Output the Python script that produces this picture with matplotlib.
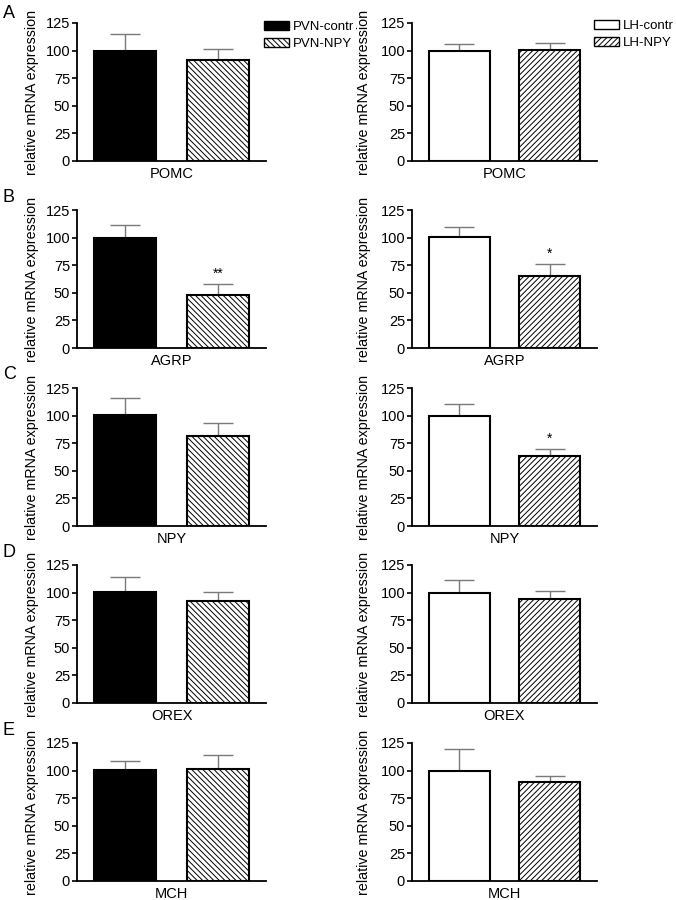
"""
Relative mRNA expression of hypothalamic neuropeptides after NPY
overexpression in PVN (left column) and LH (right column).
"""

import matplotlib
matplotlib.use("Agg")
import matplotlib.pyplot as plt
from matplotlib.patches import Patch

plt.rcParams["font.family"] = ["Liberation Sans", "DejaVu Sans"]
plt.rcParams["hatch.linewidth"] = 0.7

# genes shown, one row each
genes = ["POMC", "AGRP", "NPY", "OREX", "MCH"]
panel_letters = ["A", "B", "C", "D", "E"]

# PVN group, mean and upper SEM
pvn_contr_mean = [100, 100, 100.5, 100.3, 100.8]
pvn_contr_sem = [15, 11.2, 15.5, 13.6, 7.5]
pvn_npy_mean = [91.5, 48, 81.6, 92.1, 101.7]
pvn_npy_sem = [9.5, 10.3, 11.6, 8.7, 12]
pvn_sig = ["", "**", "", "", ""]

# LH group, mean and upper SEM
lh_contr_mean = [100, 100.4, 100, 100, 100]
lh_contr_sem = [6, 9.6, 10.5, 11.1, 19.2]
lh_npy_mean = [100.5, 65.3, 63, 94.2, 89.6]
lh_npy_sem = [6.1, 11.1, 7, 7.6, 5.1]
lh_sig = ["", "*", "*", "", ""]

yticks = [0, 25, 50, 75, 100, 125]

W, H = 676, 900
row_tops = [23, 210, 388, 565, 743]
row_height = 138
letter_tops = [5, 189, 366, 544, 722]

pvn_hatch = "\\" * 6
lh_hatch = "/" * 6


def px_axes(fig, left, top, width, height):
    """Add an axes given in pixel coordinates (top-left origin)."""
    return fig.add_axes([left / W, 1 - (top + height) / H, width / W, height / H])


def draw_panel(ax, gene, means, sems, hatch, ctrl_color, sig, label_x):
    x = [0, 1]
    colors = [ctrl_color, "white"]
    hatches = [None, hatch]
    for i in x:
        ax.bar(i, means[i], width=0.67, color=colors[i], edgecolor="black",
               linewidth=1.5, hatch=hatches[i], zorder=2)
        ax.errorbar(i, means[i], yerr=[[0], [sems[i]]], color="#7a7a7a",
                    elinewidth=1.0, capsize=11, capthick=1.0, zorder=1)
    if sig:
        ax.annotate(sig, (1, means[1] + sems[1]), xytext=(0, 2),
                    textcoords="offset points", ha="center", va="bottom",
                    fontsize=10)

    ax.set_xlim(-0.52, 1.52)
    ax.set_ylim(0, 125)
    ax.set_yticks(yticks)
    ax.set_xticks([])
    for side in ["top", "right"]:
        ax.spines[side].set_visible(False)
    ax.spines["left"].set_linewidth(1.3)
    ax.spines["bottom"].set_linewidth(1.3)
    ax.tick_params(axis="y", direction="out", length=3.5, width=1.2,
                   labelsize=10.5, pad=1.5)
    ax.set_xlabel(gene, fontsize=10.5, labelpad=4)
    ax.set_ylabel("relative mRNA expression", fontsize=10.3)
    ax.yaxis.set_label_coords(label_x, 0.5)


fig = plt.figure(figsize=(W / 100, H / 100), dpi=100)

for r, gene in enumerate(genes):
    top = row_tops[r]
    ax_l = px_axes(fig, 77, top, 189, row_height)
    draw_panel(ax_l, gene, [pvn_contr_mean[r], pvn_npy_mean[r]],
               [pvn_contr_sem[r], pvn_npy_sem[r]], pvn_hatch, "black",
               pvn_sig[r], -0.2)
    ax_r = px_axes(fig, 412, top, 185, row_height)
    draw_panel(ax_r, gene, [lh_contr_mean[r], lh_npy_mean[r]],
               [lh_contr_sem[r], lh_npy_sem[r]], lh_hatch, "white",
               lh_sig[r], -0.22)
    fig.text(3 / W, 1 - letter_tops[r] / H, panel_letters[r], fontsize=13,
             ha="left", va="top")

# legends
pvn_handles = [Patch(facecolor="black", edgecolor="black", label="PVN-contr"),
               Patch(facecolor="white", edgecolor="black", hatch=pvn_hatch,
                     label="PVN-NPY")]
lh_handles = [Patch(facecolor="white", edgecolor="black", label="LH-contr"),
              Patch(facecolor="white", edgecolor="black", hatch=lh_hatch,
                    label="LH-NPY")]
leg_kw = dict(frameon=False, fontsize=9.5, loc="upper left", borderpad=0,
              handlelength=1.9, handleheight=0.6, handletextpad=0.3,
              labelspacing=0.4, borderaxespad=0)
fig.legend(handles=pvn_handles, bbox_to_anchor=(264 / W, 1 - 21 / H), **leg_kw)
fig.legend(handles=lh_handles, bbox_to_anchor=(594 / W, 1 - 20 / H), **leg_kw)

fig.savefig("out.png", dpi=100)
